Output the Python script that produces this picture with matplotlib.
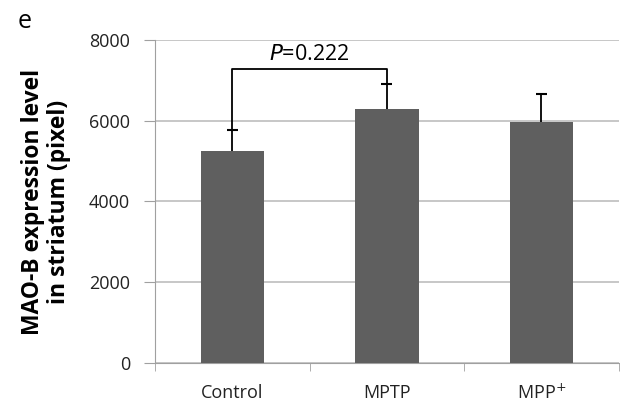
import numpy as np
import matplotlib.pyplot as plt
from matplotlib.ticker import FixedLocator

# values
groups = ["Control", "MPTP", "MPP$^{+}$"]
means = [5260, 6300, 5980]
errors = [500, 600, 680]
p_label = "P=0.222"
yticks = [0, 2000, 4000, 6000, 8000]

plt.rcParams['font.family'] = ['Open Sans', 'DejaVu Sans']

fig = plt.figure(figsize=(6.2, 4.05), dpi=100)
ax = fig.add_axes([0.25, 0.104, 0.748, 0.797])

x = np.arange(len(groups))
tops = np.array(means) + np.array(errors)
ax.bar(x, means, width=0.41, color="#5f5f5f", zorder=3)
# upper error bars only
ax.vlines(x, means, tops, color="black", lw=1.3, zorder=4)
ax.hlines(tops, x - 0.035, x + 0.035, color="black", lw=1.5, zorder=4)

# significance bracket between Control and MPTP
y_br = 7280
ax.plot([0, 0, 1, 1], [tops[0] + 30, y_br, y_br, tops[1] + 30],
        color="black", lw=1.3, zorder=4)
ax.text(0.5, y_br + 110, "$\\it{P}$=0.222", ha="center", va="bottom", fontsize=15.5)

ax.set_xlim(-0.5, 2.5)
ax.set_ylim(0, 8000)
ax.set_yticks(yticks)
ax.set_xticks(x)
ax.set_xticklabels(groups, fontsize=13)
ax.tick_params(axis='y', labelsize=13, length=8, color="#a0a0a0", pad=10, labelcolor="#222222")
ax.tick_params(axis='x', which='major', length=0, pad=15, labelcolor="#222222")
ax.xaxis.set_minor_locator(FixedLocator([-0.5, 0.5, 1.5, 2.5]))
ax.tick_params(axis='x', which='minor', length=6, color="#a0a0a0")
ax.grid(axis='y', color="#bdbdbd", lw=1.2, zorder=0)
for side in ["top", "right"]:
    ax.spines[side].set_visible(False)
ax.spines["left"].set_color("#a0a0a0")
ax.spines["bottom"].set_color("#a0a0a0")

ax.set_ylabel("MAO-B expression level\nin striatum (pixel)", fontsize=16.5,
              fontweight="bold", labelpad=13, linespacing=1.1)
fig.text(0.028, 0.93, "e", fontsize=18)

fig.savefig("out.png", dpi=100)
